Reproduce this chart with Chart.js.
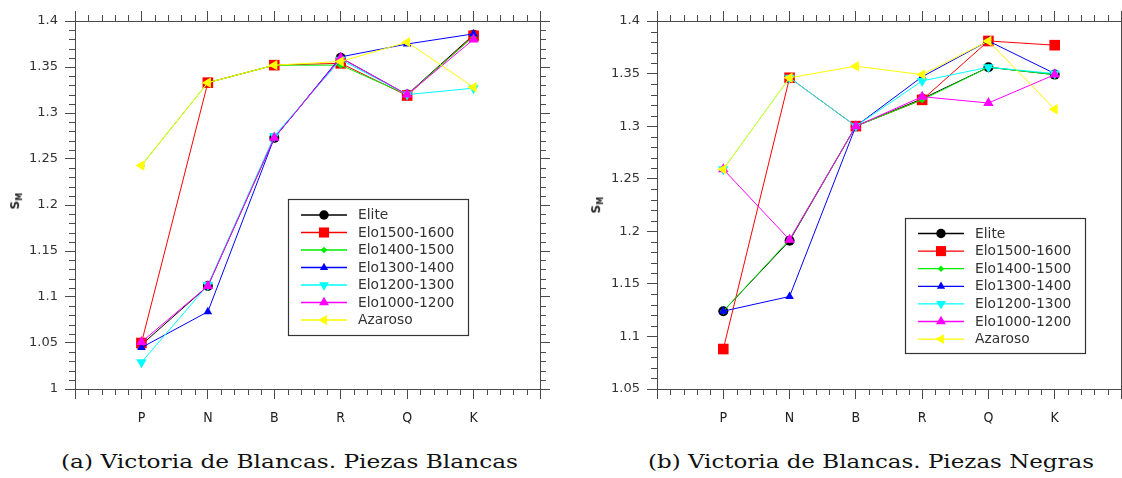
<!DOCTYPE html>
<html>
<head>
<meta charset="utf-8">
<script src="https://cdn.jsdelivr.net/npm/chart.js@4.4.1/dist/chart.umd.min.js"></script>
<style>
  html, body { margin: 0; padding: 0; background: #fff; }
  body { width: 1122px; height: 478px; position: relative; overflow: hidden; }
  .wrap { position: absolute; top: 0; height: 430px; }
  .cap { position: absolute; top: 450px; font-family: "DejaVu Serif", serif; font-size: 19px; color: #111; white-space: nowrap; transform-origin: 0 0; }
  .ylab { position: absolute; font-family: "DejaVu Sans", sans-serif; font-weight: bold; font-size: 12px; color: #222; transform: rotate(-90deg); transform-origin: center; white-space: nowrap; }
  .ylab sub { font-size: 8px; }
</style>
</head>
<body>
<div class="wrap" style="left:0; width:561px"><canvas id="c1" width="561" height="430"></canvas></div>
<div class="wrap" style="left:561px; width:572px"><canvas id="c2" width="572" height="430"></canvas></div>
<div class="ylab" id="yl1" style="left:8px; top:193px;">S<sub>M</sub></div>
<div class="ylab" id="yl2" style="left:589px; top:197px;">S<sub>M</sub></div>
<div class="cap" id="cap1">(a) Victoria de Blancas. Piezas Blancas</div>
<div class="cap" id="cap2">(b) Victoria de Blancas. Piezas Negras</div>
<script>
// ---------- data ----------
const categories = ['P', 'N', 'B', 'R', 'Q', 'K'];
const seriesNames = ['Elite', 'Elo1500-1600', 'Elo1400-1500', 'Elo1300-1400', 'Elo1200-1300', 'Elo1000-1200', 'Azaroso'];

// (a) Piezas Blancas
const whiteElite   = [1.048, 1.112, 1.273, 1.360, 1.320, 1.385];
const white1500    = [1.050, 1.333, 1.352, 1.354, 1.319, 1.384];
const white1400    = [1.243, 1.333, 1.352, 1.352, 1.320, 1.383];
const white1300    = [1.045, 1.084, 1.273, 1.361, 1.375, 1.386];
const white1200    = [1.029, 1.113, 1.275, 1.358, 1.320, 1.327];
const white1000    = [1.051, 1.112, 1.273, 1.360, 1.320, 1.380];
const whiteAzar    = [1.243, 1.333, 1.352, 1.356, 1.377, 1.328];

// (b) Piezas Negras
const blackElite   = [1.124, 1.191, 1.300, 1.326, 1.356, 1.349];
const black1500    = [1.088, 1.346, 1.300, 1.325, 1.381, 1.377];
const black1400    = [1.124, 1.192, 1.300, 1.325, 1.356, 1.349];
const black1300    = [1.124, 1.138, 1.300, 1.347, 1.381, 1.350];
const black1200    = [1.259, 1.346, 1.300, 1.343, 1.356, 1.350];
const black1000    = [1.259, 1.192, 1.300, 1.328, 1.322, 1.349];
const blackAzar    = [1.259, 1.346, 1.357, 1.349, 1.381, 1.316];

const yTicksWhite = { min: 1.0, max: 1.4, step: 0.05 };
const yTicksBlack = { min: 1.05, max: 1.4, step: 0.05 };

// ---------- styles ----------
const styles = [
  { color: '#000000', pointStyle: 'circle',   radius: 5,   rotation: 0 },
  { color: '#ff0000', pointStyle: 'rect',     radius: 7.5, rotation: 0 },
  { color: '#00ee00', pointStyle: 'rectRot',  radius: 3.5, rotation: 0 },
  { color: '#0000ff', pointStyle: 'triangle', radius: 5,   rotation: 0 },
  { color: '#00ffff', pointStyle: 'triangle', radius: 6,   rotation: 180 },
  { color: '#ff00ff', pointStyle: 'triangle', radius: 6,   rotation: 0 },
  { color: '#ffff00', pointStyle: 'triangle', radius: 6,   rotation: -90 }
];

function makeDatasets(seriesList) {
  return seriesList.map((vals, i) => ({
    label: seriesNames[i],
    data: vals.map((v, k) => ({ x: k, y: v })),
    borderColor: styles[i].color,
    backgroundColor: styles[i].color,
    pointBackgroundColor: styles[i].color,
    pointBorderColor: styles[i].color,
    pointBorderWidth: 0,
    borderWidth: 1,
    pointStyle: styles[i].pointStyle,
    pointRadius: styles[i].radius,
    pointRotation: styles[i].rotation,
    fill: false,
    tension: 0,
    order: seriesList.length - 1 - i
  }));
}

const AXIS = '#4a4a4a';

// minor ticks + legend plugin
const decorPlugin = {
  id: 'decor',
  afterDraw(chart, args, opts) {
    const ctx = chart.ctx;
    const ca = chart.chartArea;
    ctx.save();
    ctx.strokeStyle = AXIS;
    ctx.lineWidth = 1;
    const mLen = 6;
    // minor x ticks (bottom and top)
    const xs = chart.scales.x;
    for (let i = xs.min; i < xs.max; i++) {
      for (let k = 1; k < 5; k++) {
        const px = Math.round(xs.getPixelForValue(i + k / 5)) + 0.5;
        ctx.beginPath();
        ctx.moveTo(px, ca.bottom); ctx.lineTo(px, ca.bottom + mLen);
        ctx.moveTo(px, ca.top); ctx.lineTo(px, ca.top - mLen);
        ctx.stroke();
      }
    }
    // minor y ticks (left and right)
    const ys = chart.scales.y;
    const n = Math.round((ys.max - ys.min) / 0.01);
    for (let j = 1; j < n; j++) {
      if (j % 5 === 0) continue;
      const v = ys.min + j * 0.01;
      const py = Math.round(ys.getPixelForValue(v)) + 0.5;
      ctx.beginPath();
      ctx.moveTo(ca.left, py); ctx.lineTo(ca.left - mLen, py);
      ctx.moveTo(ca.right, py); ctx.lineTo(ca.right + mLen, py);
      ctx.stroke();
    }
    // legend
    const L = opts;
    ctx.strokeStyle = '#333';
    ctx.lineWidth = 1.2;
    ctx.strokeRect(L.x0 + 0.5, L.y0 + 0.5, L.x1 - L.x0, L.y1 - L.y0);
    ctx.font = '13.8px "DejaVu Sans", sans-serif';
    ctx.textBaseline = 'middle';
    ctx.textAlign = 'left';
    chart.data.datasets.forEach((ds, i) => {
      const y = L.rowY + i * L.rowH;
      ctx.strokeStyle = ds.borderColor;
      ctx.lineWidth = 1.3;
      ctx.beginPath();
      ctx.moveTo(L.lx0, y); ctx.lineTo(L.lx1, y);
      ctx.stroke();
      ctx.fillStyle = ds.pointBackgroundColor;
      Chart.helpers.drawPoint(ctx, {
        pointStyle: ds.pointStyle,
        radius: ds.pointRadius * 0.95,
        rotation: ds.pointRotation,
        borderWidth: 0
      }, (L.lx0 + L.lx1) / 2, y);
      ctx.fillStyle = '#333';
      ctx.fillText(ds.label, L.tx, y + 0.5);
    });
    ctx.restore();
  }
};

function makeChart(id, seriesList, yr, geo, legend) {
  const fixW = w => (s => { s.width = w; });
  const fixH = h => (s => { s.height = h; });
  const fmt = v => {
    const r = Math.round(v * 100) / 100;
    return String(r);
  };
  return new Chart(document.getElementById(id), {
    type: 'line',
    data: { datasets: makeDatasets(seriesList) },
    plugins: [decorPlugin],
    options: {
      responsive: false,
      animation: false,
      events: [],
      layout: { padding: 0 },
      plugins: {
        legend: { display: false },
        tooltip: { enabled: false },
        decor: legend
      },
      scales: {
        x: {
          type: 'linear', position: 'bottom',
          min: -1, max: categories.length,
          afterFit: fixH(geo.bottom),
          border: { display: true, color: AXIS, width: 1 },
          grid: { drawOnChartArea: false, drawTicks: true, tickLength: 10, color: AXIS },
          ticks: {
            stepSize: 1, autoSkip: false, maxRotation: 0, padding: 11,
            color: '#222',
            font: { family: '"Liberation Sans Narrow", "DejaVu Sans Condensed", sans-serif', size: 14 },
            callback: v => categories[v] !== undefined ? categories[v] : ''
          }
        },
        x2: {
          type: 'linear', position: 'top',
          min: -1, max: categories.length,
          afterFit: fixH(geo.top),
          border: { display: true, color: AXIS, width: 1 },
          grid: { drawOnChartArea: false, drawTicks: true, tickLength: 10, color: AXIS },
          ticks: { display: false, stepSize: 1 }
        },
        y: {
          type: 'linear', position: 'left',
          min: yr.min, max: yr.max,
          afterFit: fixW(geo.left),
          border: { display: true, color: AXIS, width: 1 },
          grid: { drawOnChartArea: false, drawTicks: true, tickLength: 10, color: AXIS },
          ticks: {
            stepSize: yr.step, padding: 7, color: '#333',
            font: { family: '"DejaVu Sans", sans-serif', size: 13 },
            callback: fmt
          }
        },
        y2: {
          type: 'linear', position: 'right',
          min: yr.min, max: yr.max,
          afterFit: fixW(geo.right),
          border: { display: true, color: AXIS, width: 1 },
          grid: { drawOnChartArea: false, drawTicks: true, tickLength: 10, color: AXIS },
          ticks: { display: false, stepSize: yr.step }
        }
      }
    }
  });
}

makeChart('c1',
  [whiteElite, white1500, white1400, white1300, white1200, white1000, whiteAzar],
  yTicksWhite,
  { left: 75, right: 21, top: 21, bottom: 41 },
  { x0: 288, y0: 199, x1: 468, y1: 335, lx0: 301, lx1: 347, tx: 358, rowY: 215, rowH: 17.5 });

makeChart('c2',
  [blackElite, black1500, black1400, black1300, black1200, black1000, blackAzar],
  yTicksBlack,
  { left: 96, right: 12, top: 21, bottom: 41 },
  { x0: 344, y0: 218, x1: 524, y1: 353, lx0: 357, lx1: 403, tx: 414, rowY: 233.5, rowH: 17.6 });

// caption layout (fit to reference widths)
function placeCap(id, left, width) {
  const el = document.getElementById(id);
  const w = el.getBoundingClientRect().width;
  el.style.left = left + 'px';
  el.style.transform = 'scaleX(' + (width / w) + ')';
}
placeCap('cap1', 61, 457);
placeCap('cap2', 648, 446);
</script>
</body>
</html>
